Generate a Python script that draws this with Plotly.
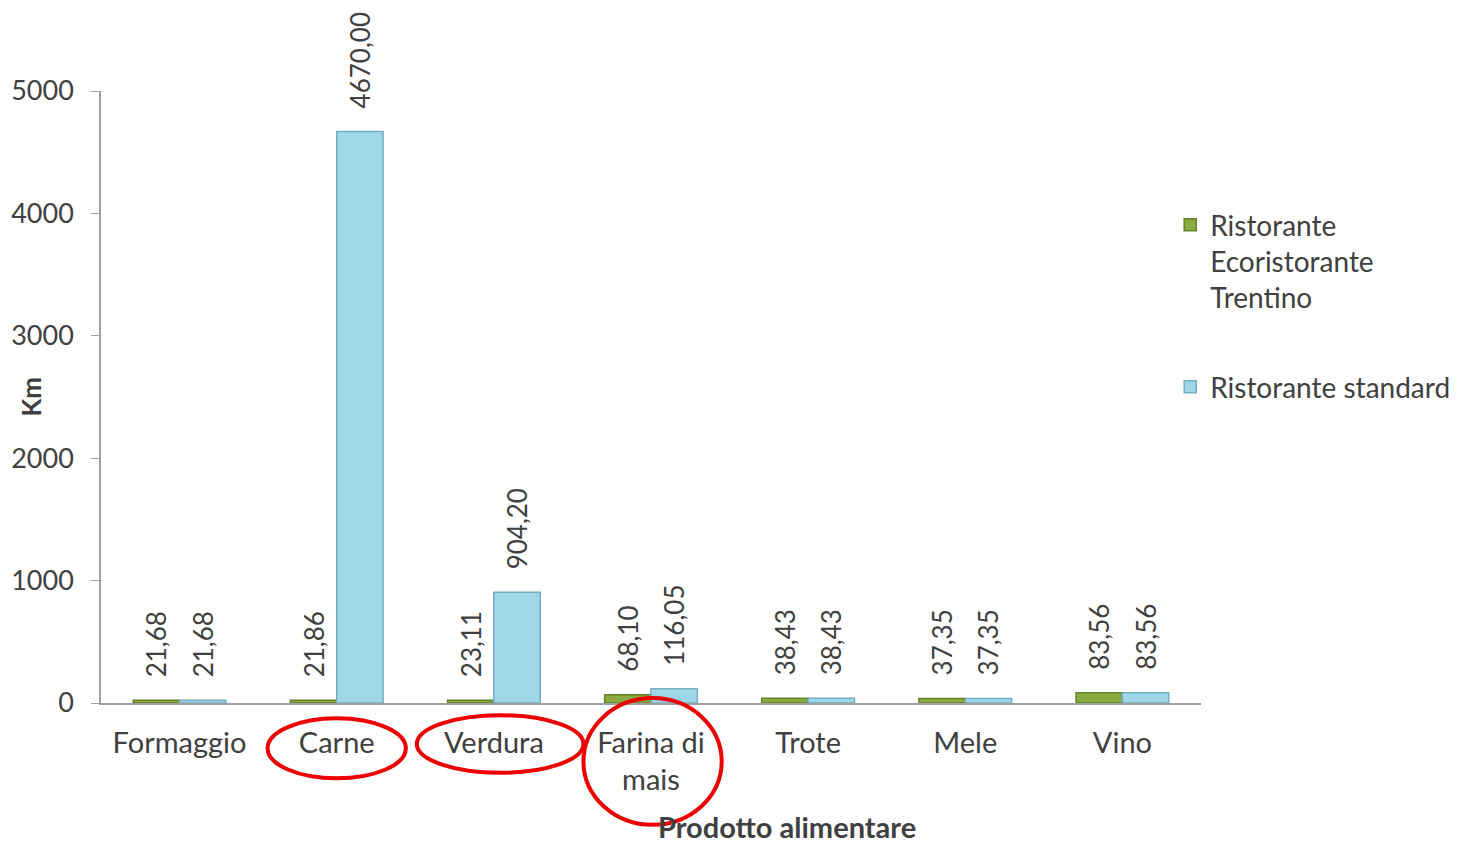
import plotly.graph_objects as go

categories = ["Formaggio", "Carne", "Verdura", "Farina di<br>mais", "Trote", "Mele", "Vino"]
eco_values = [21.68, 21.86, 23.11, 68.10, 38.43, 37.35, 83.56]
std_values = [21.68, 4670.00, 904.20, 116.05, 38.43, 37.35, 83.56]
series_names = ["Ristorante<br>Ecoristorante<br>Trentino", "Ristorante standard"]
y_ticks = [0, 1000, 2000, 3000, 4000, 5000]


def fmt(v):
    return "\u00a0\u00a0\u00a0" + f"{v:.2f}".replace(".", ",")


FONT = "Lato, 'Open Sans', sans-serif"
TXT = "#404040"

fig = go.Figure()
fig.add_trace(go.Bar(
    x=categories, y=eco_values, name=series_names[0], legendgroup="a",
    marker=dict(color="#8aab3e", line=dict(color="#62812a", width=1.5)),
    text=[fmt(v) for v in eco_values], textposition="outside", textangle=-90,
    textfont=dict(family=FONT, size=26, color=TXT), constraintext="none",
    cliponaxis=False,
))
fig.add_trace(go.Bar(
    x=categories, y=std_values, name=series_names[1], legendgroup="b",
    marker=dict(color="#9dd7e8", line=dict(color="#74aec0", width=1.5)),
    text=[fmt(v) for v in std_values], textposition="outside", textangle=-90,
    textfont=dict(family=FONT, size=26, color=TXT), constraintext="none",
    cliponaxis=False,
))

# red ellipses highlighting categories (positioned on category axis)
ellipses = [(-0.44 + 1, 0.44 + 1, -0.025, -0.123),
            (-0.49 + 2, 0.57 + 2, -0.020, -0.114),
            (-0.43 + 3, 0.45 + 3, 0.008, -0.199)]
for x0, x1, y0, y1 in ellipses:
    fig.add_shape(type="circle", xref="x", yref="paper", x0=x0, x1=x1, y0=y1, y1=y0,
                  line=dict(color="#ee0000", width=4), fillcolor="rgba(0,0,0,0)")

fig.add_annotation(text="<b>Prodotto alimentare</b>", xref="paper", yref="paper",
                   x=0.6236, y=-0.202, showarrow=False, yanchor="middle",
                   font=dict(family=FONT, size=29, color=TXT))
fig.add_annotation(text="<b>Km</b>", xref="paper", yref="paper",
                   x=-0.064, y=0.50, showarrow=False, textangle=-90,
                   xanchor="center", yanchor="middle",
                   font=dict(family=FONT, size=26, color=TXT))

fig.update_layout(
    width=1482, height=847,
    paper_bgcolor="white", plot_bgcolor="white",
    margin=dict(l=101, r=281, t=91, b=144, autoexpand=False),
    barmode="group", bargap=0.41, bargroupgap=0,
    font=dict(family=FONT, color=TXT),
    showlegend=True,
    legend=dict(x=0.972, y=0.822, xanchor="left", yanchor="top", valign="top",
                font=dict(family=FONT, size=28, color=TXT),
                tracegroupgap=50, itemwidth=30, bgcolor="rgba(0,0,0,0)"),
    xaxis=dict(showline=True, linecolor="#a0a0a0", linewidth=1.5, automargin=False,
               ticks="", tickfont=dict(family=FONT, size=29, color=TXT),
               ticklabelstandoff=13, showgrid=False),
    yaxis=dict(range=[0, 5000], tickvals=y_ticks, showline=True, linecolor="#a0a0a0",
               linewidth=1.5, ticks="outside", ticklen=8, tickcolor="#a0a0a0",
               showgrid=False, zeroline=False, automargin=False,
               ticklabelstandoff=12,
               tickfont=dict(family=FONT, size=27, color=TXT)),
)

fig.write_html(
    "out.html",
    config={"displayModeBar": False},
    post_script="document.body.style.margin='0';document.body.style.overflow='hidden';",
)
